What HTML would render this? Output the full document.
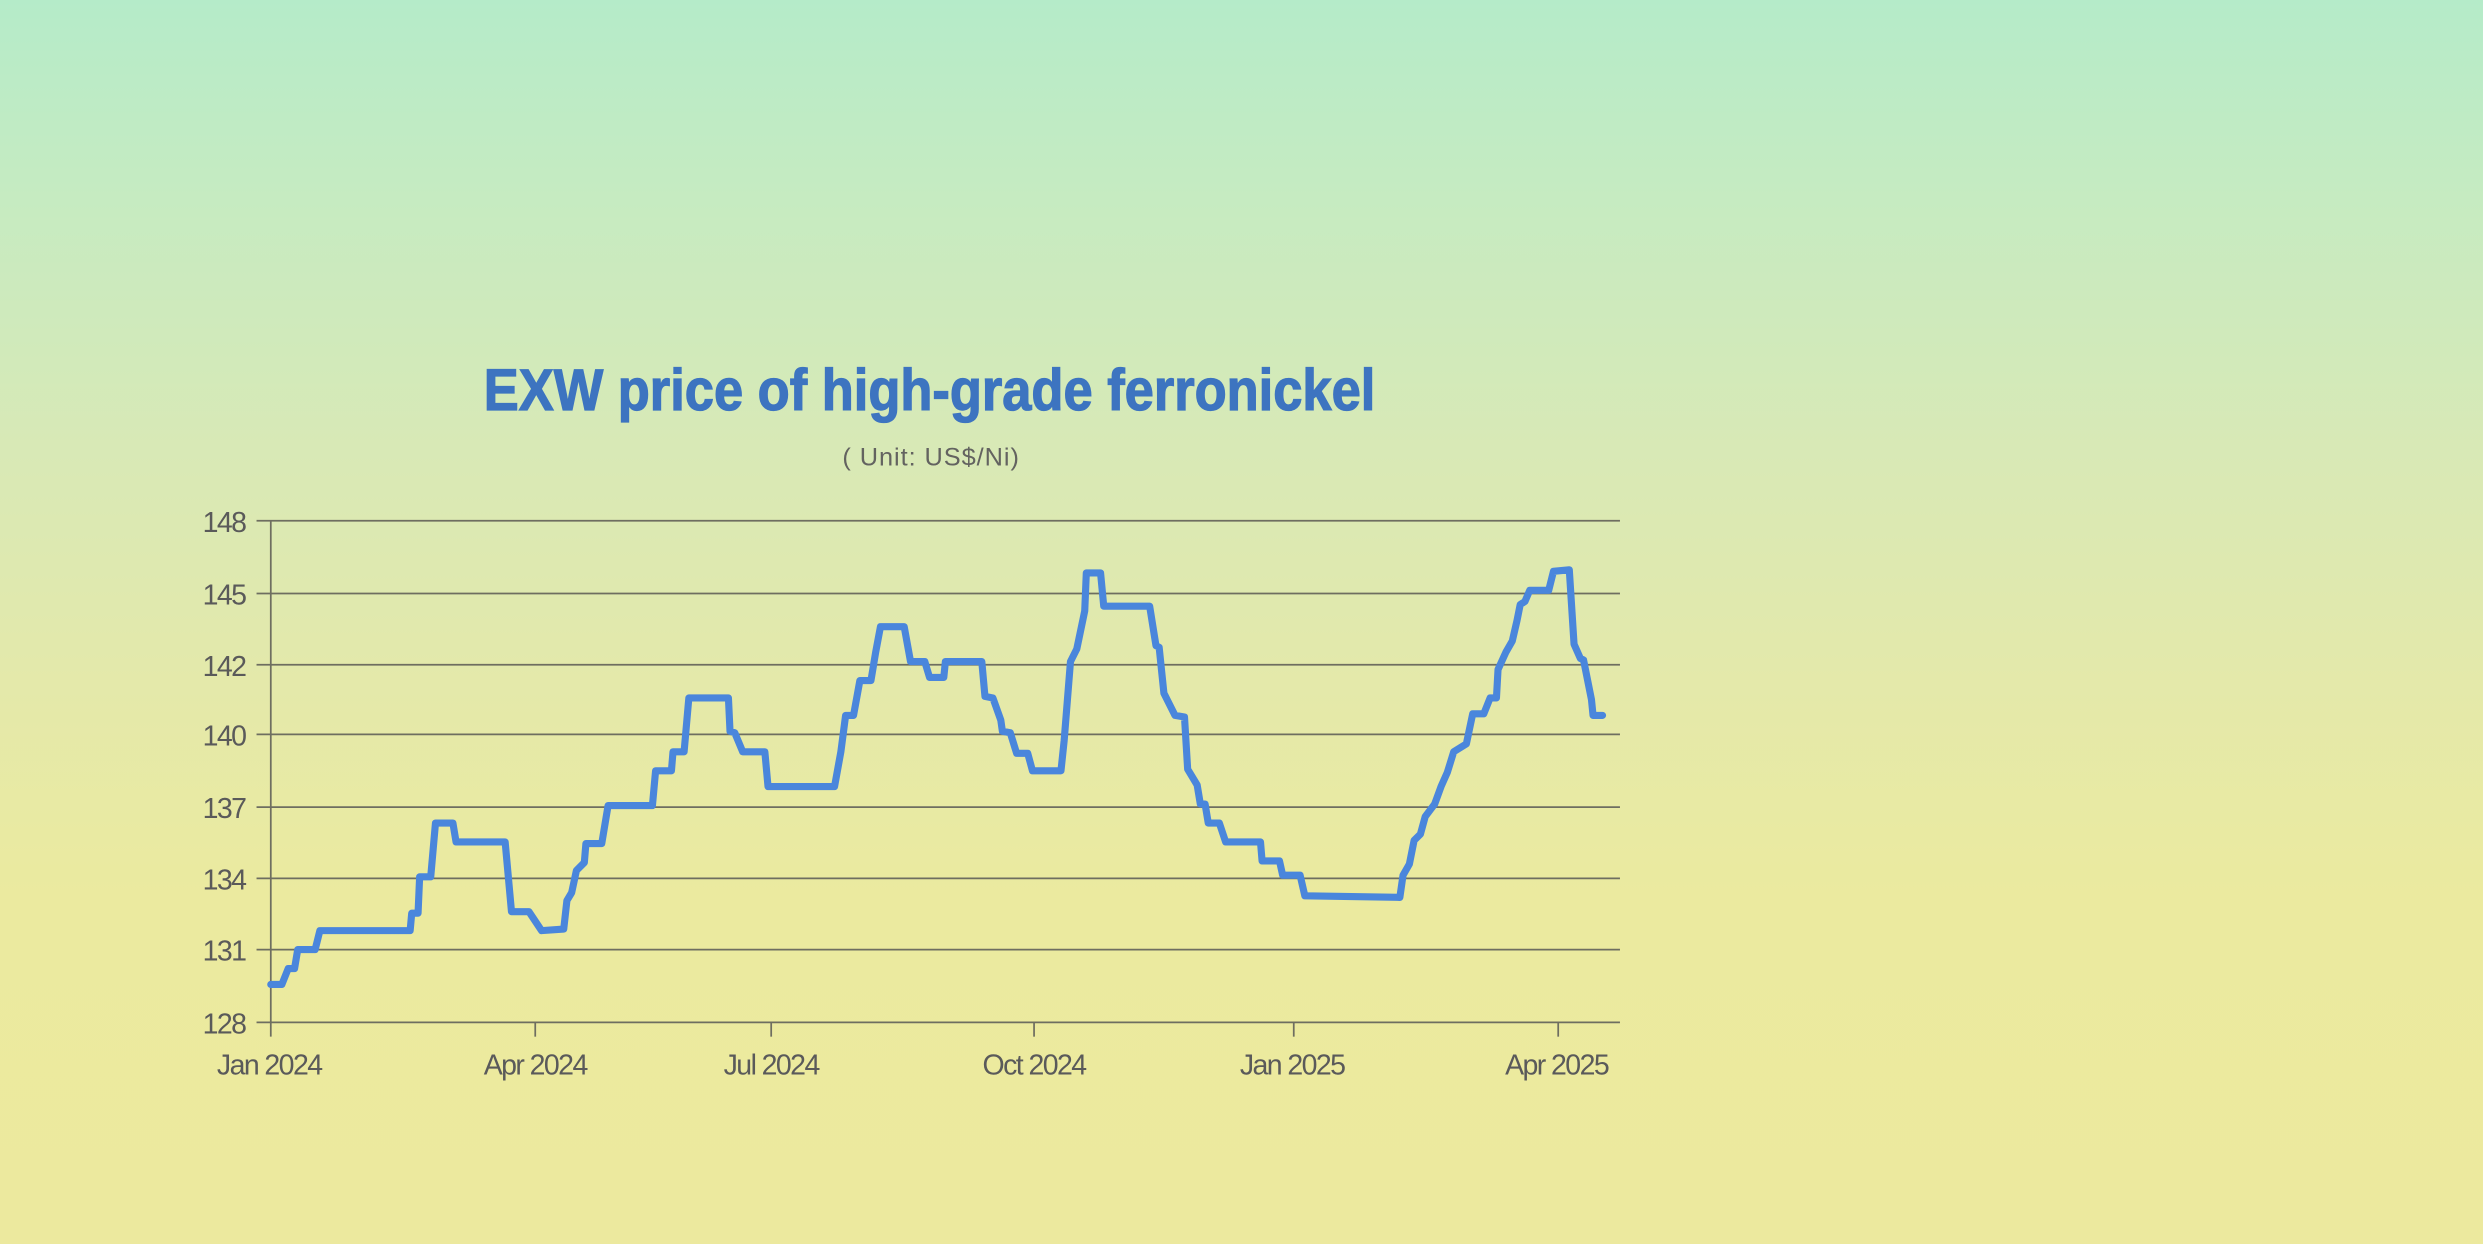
<!DOCTYPE html>
<html><head><meta charset="utf-8"><style>
html,body{margin:0;padding:0;width:2483px;height:1244px;overflow:hidden}
body{background:linear-gradient(to bottom,#b5ebc9 0%,#c6ebc1 16%,#d8e9b6 36%,#e4e9aa 55%,#ebea9f 72%,#ece99e 100%)}
svg{position:absolute;left:0;top:0}
</style></head><body>
<svg width="2483" height="1244" viewBox="0 0 1568 786" preserveAspectRatio="none">
<text x="587" y="259" text-anchor="middle" font-family="Liberation Sans, sans-serif" font-weight="bold" font-size="37" fill="#3d74c0" stroke="#3d74c0" stroke-width="0.8" textLength="563" lengthAdjust="spacingAndGlyphs">EXW price of high-grade ferronickel</text>
<text x="588" y="294" text-anchor="middle" font-family="Liberation Sans, sans-serif" font-size="16" fill="#636360" letter-spacing="0.6">( Unit: US$/Ni)</text>
<g stroke="#6e6e60" stroke-width="1.1">
<line x1="162" y1="329" x2="1023" y2="329"/>
<line x1="162" y1="375" x2="1023" y2="375"/>
<line x1="162" y1="420" x2="1023" y2="420"/>
<line x1="162" y1="464" x2="1023" y2="464"/>
<line x1="162" y1="510" x2="1023" y2="510"/>
<line x1="162" y1="555" x2="1023" y2="555"/>
<line x1="162" y1="600" x2="1023" y2="600"/>
<line x1="162" y1="646" x2="1023" y2="646"/>
<line x1="171" y1="329" x2="171" y2="655"/>
<line x1="338" y1="646" x2="338" y2="655"/>
<line x1="487" y1="646" x2="487" y2="655"/>
<line x1="653" y1="646" x2="653" y2="655"/>
<line x1="817" y1="646" x2="817" y2="655"/>
<line x1="984" y1="646" x2="984" y2="655"/>
</g>
<g font-family="Liberation Sans, sans-serif" font-size="18" fill="#5a5a5a" text-anchor="end" letter-spacing="-1">
<text x="155" y="336">148</text><text x="155" y="382">145</text><text x="155" y="427">142</text><text x="155" y="471">140</text><text x="155" y="517">137</text><text x="155" y="562">134</text><text x="155" y="607">131</text><text x="155" y="653">128</text>
</g>
<g font-family="Liberation Sans, sans-serif" font-size="18" fill="#5a5a5a" text-anchor="middle" letter-spacing="-1">
<text x="170" y="679">Jan 2024</text><text x="338" y="679">Apr 2024</text><text x="487" y="679">Jul 2024</text><text x="653" y="679">Oct 2024</text><text x="816" y="679">Jan 2025</text><text x="983" y="679">Apr 2025</text>
</g>
<polyline fill="none" stroke="#4a86dc" stroke-width="4.5" stroke-linejoin="round" stroke-linecap="round" points="171,622 178,622 182,612 186,612 188,600 199,600 202,588 259,588 260,577 264,577 265,554 272,554 275,520 286,520 288,532 319,532 323,576 334,576 342,588 356,587 358,569 361,564 364,550 369,545 370,533 380,533 384,509 412,509 414,487 424,487 425,475 432,475 435,441 460,441 461,462 464,463 469,475 483,475 485,497 527,497 531,475 534,452 539,452 543,430 550,430 553,412 556,396 571,396 575,418 584,418 587,428 596,428 597,418 620,418 622,440 627,441 632,455 633,462 638,463 642,476 649,476 652,487 670,487 672,468 676,418 680,410 685,386 686,362 695,362 697,383 726,383 730,408 732,409 735,438 742,452 748,453 750,486 756,496 758,508 761,508 763,520 770,520 774,532 796,532 797,544 808,544 810,553 821,553 824,566 884,567 886,553 890,546 893,531 897,527 900,516 906,508 910,497 914,488 918,475 926,470 930,451 937,451 941,441 945,441 946,423 951,412 955,405 958,392 960,382 963,380 966,373 978,373 981,361 991,360 994,407 998,416 1000,417 1005,442 1006,452 1012,452"/>
</svg>
</body></html>
